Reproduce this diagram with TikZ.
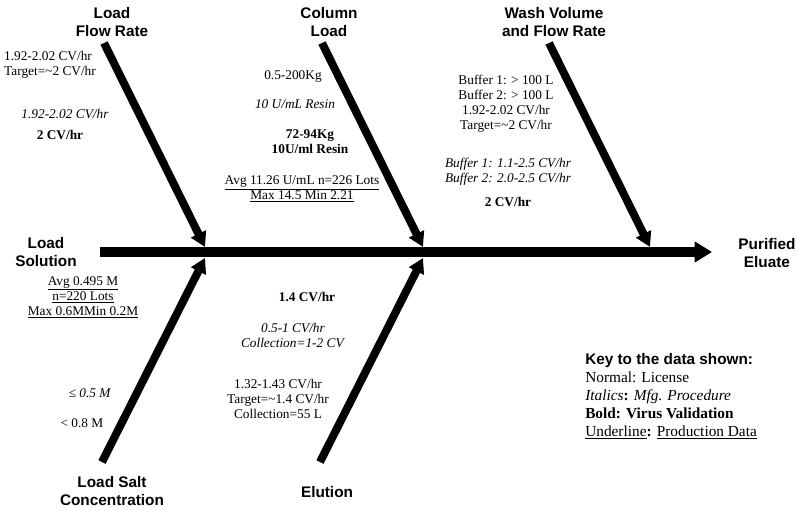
\documentclass[tikz,border=0pt]{standalone}
\usepackage{fontspec}
\setmainfont{Liberation Serif}
\setsansfont{Liberation Sans}
\usetikzlibrary{arrows.meta, positioning}

\tikzset{
  cause/.style={align=center, inner sep=0pt, font=\sffamily\bfseries\fontsize{11.5}{14}\selectfont},
  data/.style={align=center, inner sep=0pt, font=\fontsize{10}{11.25}\selectfont},
  bone/.style={line width=6pt, -{Triangle[length=11pt,width=12pt]}},
  spine/.style={line width=7.5pt, -{Triangle[length=13pt,width=15pt]}},
}

\begin{document}
\begin{tikzpicture}[x=0.75pt, y=-0.75pt]
\useasboundingbox (0,0) rectangle (797,511);

% main line
\node[cause] (src) at (46,252) {Load\\Solution};
\node[cause] (out) at (767,253) {Purified\\Eluate};
\coordinate (sp-start) at (100,252);
\coordinate (sp-end) at (712,252);
\draw[spine] (sp-start) -- (sp-end);

% upper causes
\node[cause] (lfr) at (112,22) {Load\\Flow Rate};
\node[cause] (cl) at (329,22) {Column\\Load};
\node[cause] (wash) at (554,22) {Wash Volume\\and Flow Rate};
\coordinate (lfr-tail) at (104,43);
\coordinate (lfr-tip) at (205,247);
\coordinate (cl-tail) at (322,43);
\coordinate (cl-tip) at (423,247);
\coordinate (wash-tail) at (549,43);
\coordinate (wash-tip) at (650,247);
\draw[bone] (lfr-tail) -- (lfr-tip);
\draw[bone] (cl-tail) -- (cl-tip);
\draw[bone] (wash-tail) -- (wash-tip);

% lower causes
\node[cause] (salt) at (112,491) {Load Salt\\Concentration};
\node[cause] (elu) at (327,492) {Elution};
\coordinate (salt-tail) at (102,462);
\coordinate (salt-tip) at (205,258);
\coordinate (elu-tail) at (320,462);
\coordinate (elu-tip) at (423,258);
\draw[bone] (salt-tail) -- (salt-tip);
\draw[bone] (elu-tail) -- (elu-tip);

% load flow rate data
\node[data, align=left] (lfr-lic) at (50,65) {1.92-2.02 CV/hr\\Target=\textasciitilde2 CV/hr};
\node[data] (lfr-mfg) at (65,114) {\textit{1.92-2.02 CV/hr}};
\node[data] (lfr-vir) at (60,135) {\textbf{2 CV/hr}};

% column load data
\node[data] (cl-lic) at (293,77) {0.5-200Kg};
\node[data] (cl-mfg) at (295,104) {\textit{10 U/mL Resin}};
\node[data] (cl-vir) at (310,142) {\textbf{72-94Kg}\\\textbf{10U/ml Resin}};
\node[data] (cl-prod) at (302,189) {\underline{Avg 11.26 U/mL n=226 Lots}\\\underline{Max 14.5 Min 2.21}};

% wash data
\node[data] (wash-lic) at (506,104) {Buffer 1: > 100 L\\Buffer 2: > 100 L\\1.92-2.02 CV/hr\\Target=\textasciitilde2 CV/hr};
\node[data] (wash-mfg) at (508,172) {\textit{Buffer 1: 1.1-2.5 CV/hr}\\\textit{Buffer 2: 2.0-2.5 CV/hr}};
\node[data] (wash-vir) at (508,202) {\textbf{2 CV/hr}};

% load solution data
\node[data] (src-prod) at (83,297) {\underline{Avg 0.495 M}\\\underline{n=220 Lots}\\\underline{Max 0.6MMin 0.2M}};

% load salt data
\node[data] (salt-mfg) at (90,393) {\textit{≤ 0.5 M}};
\node[data] (salt-lic) at (82,423) {< 0.8 M};

% elution data
\node[data] (elu-vir) at (307,297) {\textbf{1.4 CV/hr}};
\node[data] (elu-mfg) at (293,335) {\textit{0.5-1 CV/hr}\\\textit{Collection=1-2 CV}};
\node[data] (elu-lic) at (278,399) {1.32-1.43 CV/hr\\Target=\textasciitilde1.4 CV/hr\\Collection=55 L};

% key
\node[data, align=left, anchor=west, font=\fontsize{11.5}{13.5}\selectfont] (key) at (585,396)
  {{\sffamily\bfseries Key to the data shown:}\\
   Normal: License\\
   \textit{Italics}\textbf{:} \textit{Mfg. Procedure}\\
   \textbf{Bold: Virus Validation}\\
   \underline{Underline}\textbf{:} \underline{Production Data}};

\end{tikzpicture}
\end{document}
